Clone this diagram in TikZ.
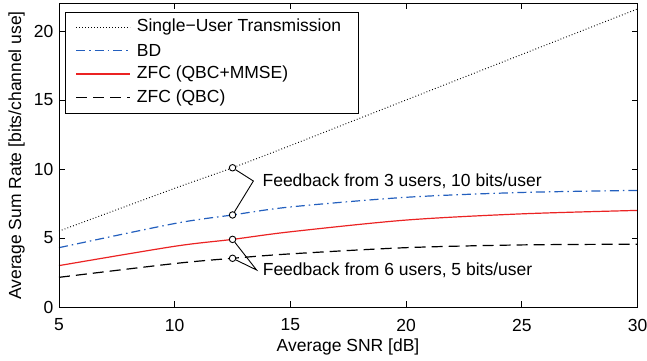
\documentclass[tikz,border=0pt]{standalone}
\usepackage{fontspec}
\setmainfont{Liberation Sans}
\definecolor{bdblue}{RGB}{35,95,190}
\definecolor{zfcred}{RGB}{235,35,35}

\begin{document}
\begin{tikzpicture}[font=\fontsize{17.5}{21}\selectfont,
    su/.style = {line width=1pt, dash pattern=on 0.8pt off 2.2pt},
    bd/.style = {bdblue, line width=1.2pt, dash pattern=on 9pt off 4pt on 1.5pt off 4pt},
    qbcmmse/.style = {zfcred, line width=1.2pt},
    qbc/.style = {line width=1.2pt, dash pattern=on 11pt off 6pt},
    marker/.style = {draw, circle, fill=white, inner sep=0pt, minimum size=6.5pt, line width=0.9pt},
    ticklabel/.style = {inner sep=0pt}]
\useasboundingbox (0,0) rectangle (647pt,360pt);
\begin{scope}[x=23.14pt, y=13.8pt, shift={(-56.7pt,53pt)}]
    \draw[su] plot[smooth] coordinates {(5,5.5) (10,8.6) (12.5,10.09) (15,11.7) (20,15.0) (25,18.3) (30,21.6)};
    \draw[bd] plot[smooth] coordinates {(5,4.3) (10,6.05) (12.5,6.67) (15,7.25) (20,7.95) (25,8.3) (30,8.45)};
    \draw[qbcmmse] plot[smooth] coordinates {(5,3.0) (10,4.4) (12.5,4.9) (15,5.45) (20,6.3) (25,6.75) (30,7.0)};
    \draw[qbc] plot[smooth] coordinates {(5,2.15) (10,3.15) (12.5,3.53) (15,3.85) (20,4.3) (25,4.5) (30,4.55)};
    \draw[line width=1pt] (5,0) rectangle (30,22);
    \foreach \x in {5,10,...,30} {
        \draw[line width=0.8pt] (\x,0) -- ++(0,6pt);
        \draw[line width=0.8pt] (\x,22) -- ++(0,-6pt);
        \node[ticklabel] (xl\x) at (\x,0) [yshift=-18pt] {\x};
    }
    \foreach \y in {0,5,...,20} {
        \draw[line width=0.8pt] (5,\y) -- ++(6pt,0);
        \draw[line width=0.8pt] (30,\y) -- ++(-6pt,0);
        \node[ticklabel, anchor=east] (yl\y) at (5,\y) [xshift=-5.5pt] {\y};
    }
    \node[marker] (m1) at (12.5,10.09) {};
    \node[marker] (m2) at (12.5,6.67) {};
    \node[marker] (m3) at (12.5,4.9) {};
    \node[marker] (m4) at (12.5,3.53) {};
    \node[anchor=west, inner xsep=9pt, inner ysep=0pt] (fb1) at (13.40,9.13) {Feedback from 3 users, 10 bits/user};
    \node[anchor=west, inner xsep=6pt, inner ysep=0pt] (fb2) at (13.54,2.68) {Feedback from 6 users, 5 bits/user};
    \draw[line width=0.9pt] (m1) -- (fb1.west) -- (m2);
    \draw[line width=0.9pt] (m3) -- (fb2.west) -- (m4);
\end{scope}
\node[anchor=base] (xlabel) at (348pt,8.3pt) {Average SNR [dB]};
\node[anchor=base, rotate=90] (ylabel) at (21pt,204.5pt) {Average Sum Rate [bits/channel use]};
\node[draw, line width=1pt, fill=white, minimum width=293.5pt, minimum height=100.4pt, anchor=north west, inner sep=0pt] (legend) at (64.5pt,347.7pt) {};
\draw[su] (76pt,333pt) -- (130pt,333pt);
\draw[bd] (76pt,309.5pt) -- (130pt,309.5pt);
\draw[qbcmmse] (76pt,286pt) -- (130pt,286pt);
\draw[qbc] (76pt,262.5pt) -- (130pt,262.5pt);
\node[anchor=west] (l1) at (133.4pt,333pt) {Single−User Transmission};
\node[anchor=west] (l2) at (133.4pt,309.5pt) {BD};
\node[anchor=west] (l3) at (133.4pt,286pt) {ZFC (QBC+MMSE)};
\node[anchor=west] (l4) at (133.4pt,262.5pt) {ZFC (QBC)};
\end{tikzpicture}
\end{document}
